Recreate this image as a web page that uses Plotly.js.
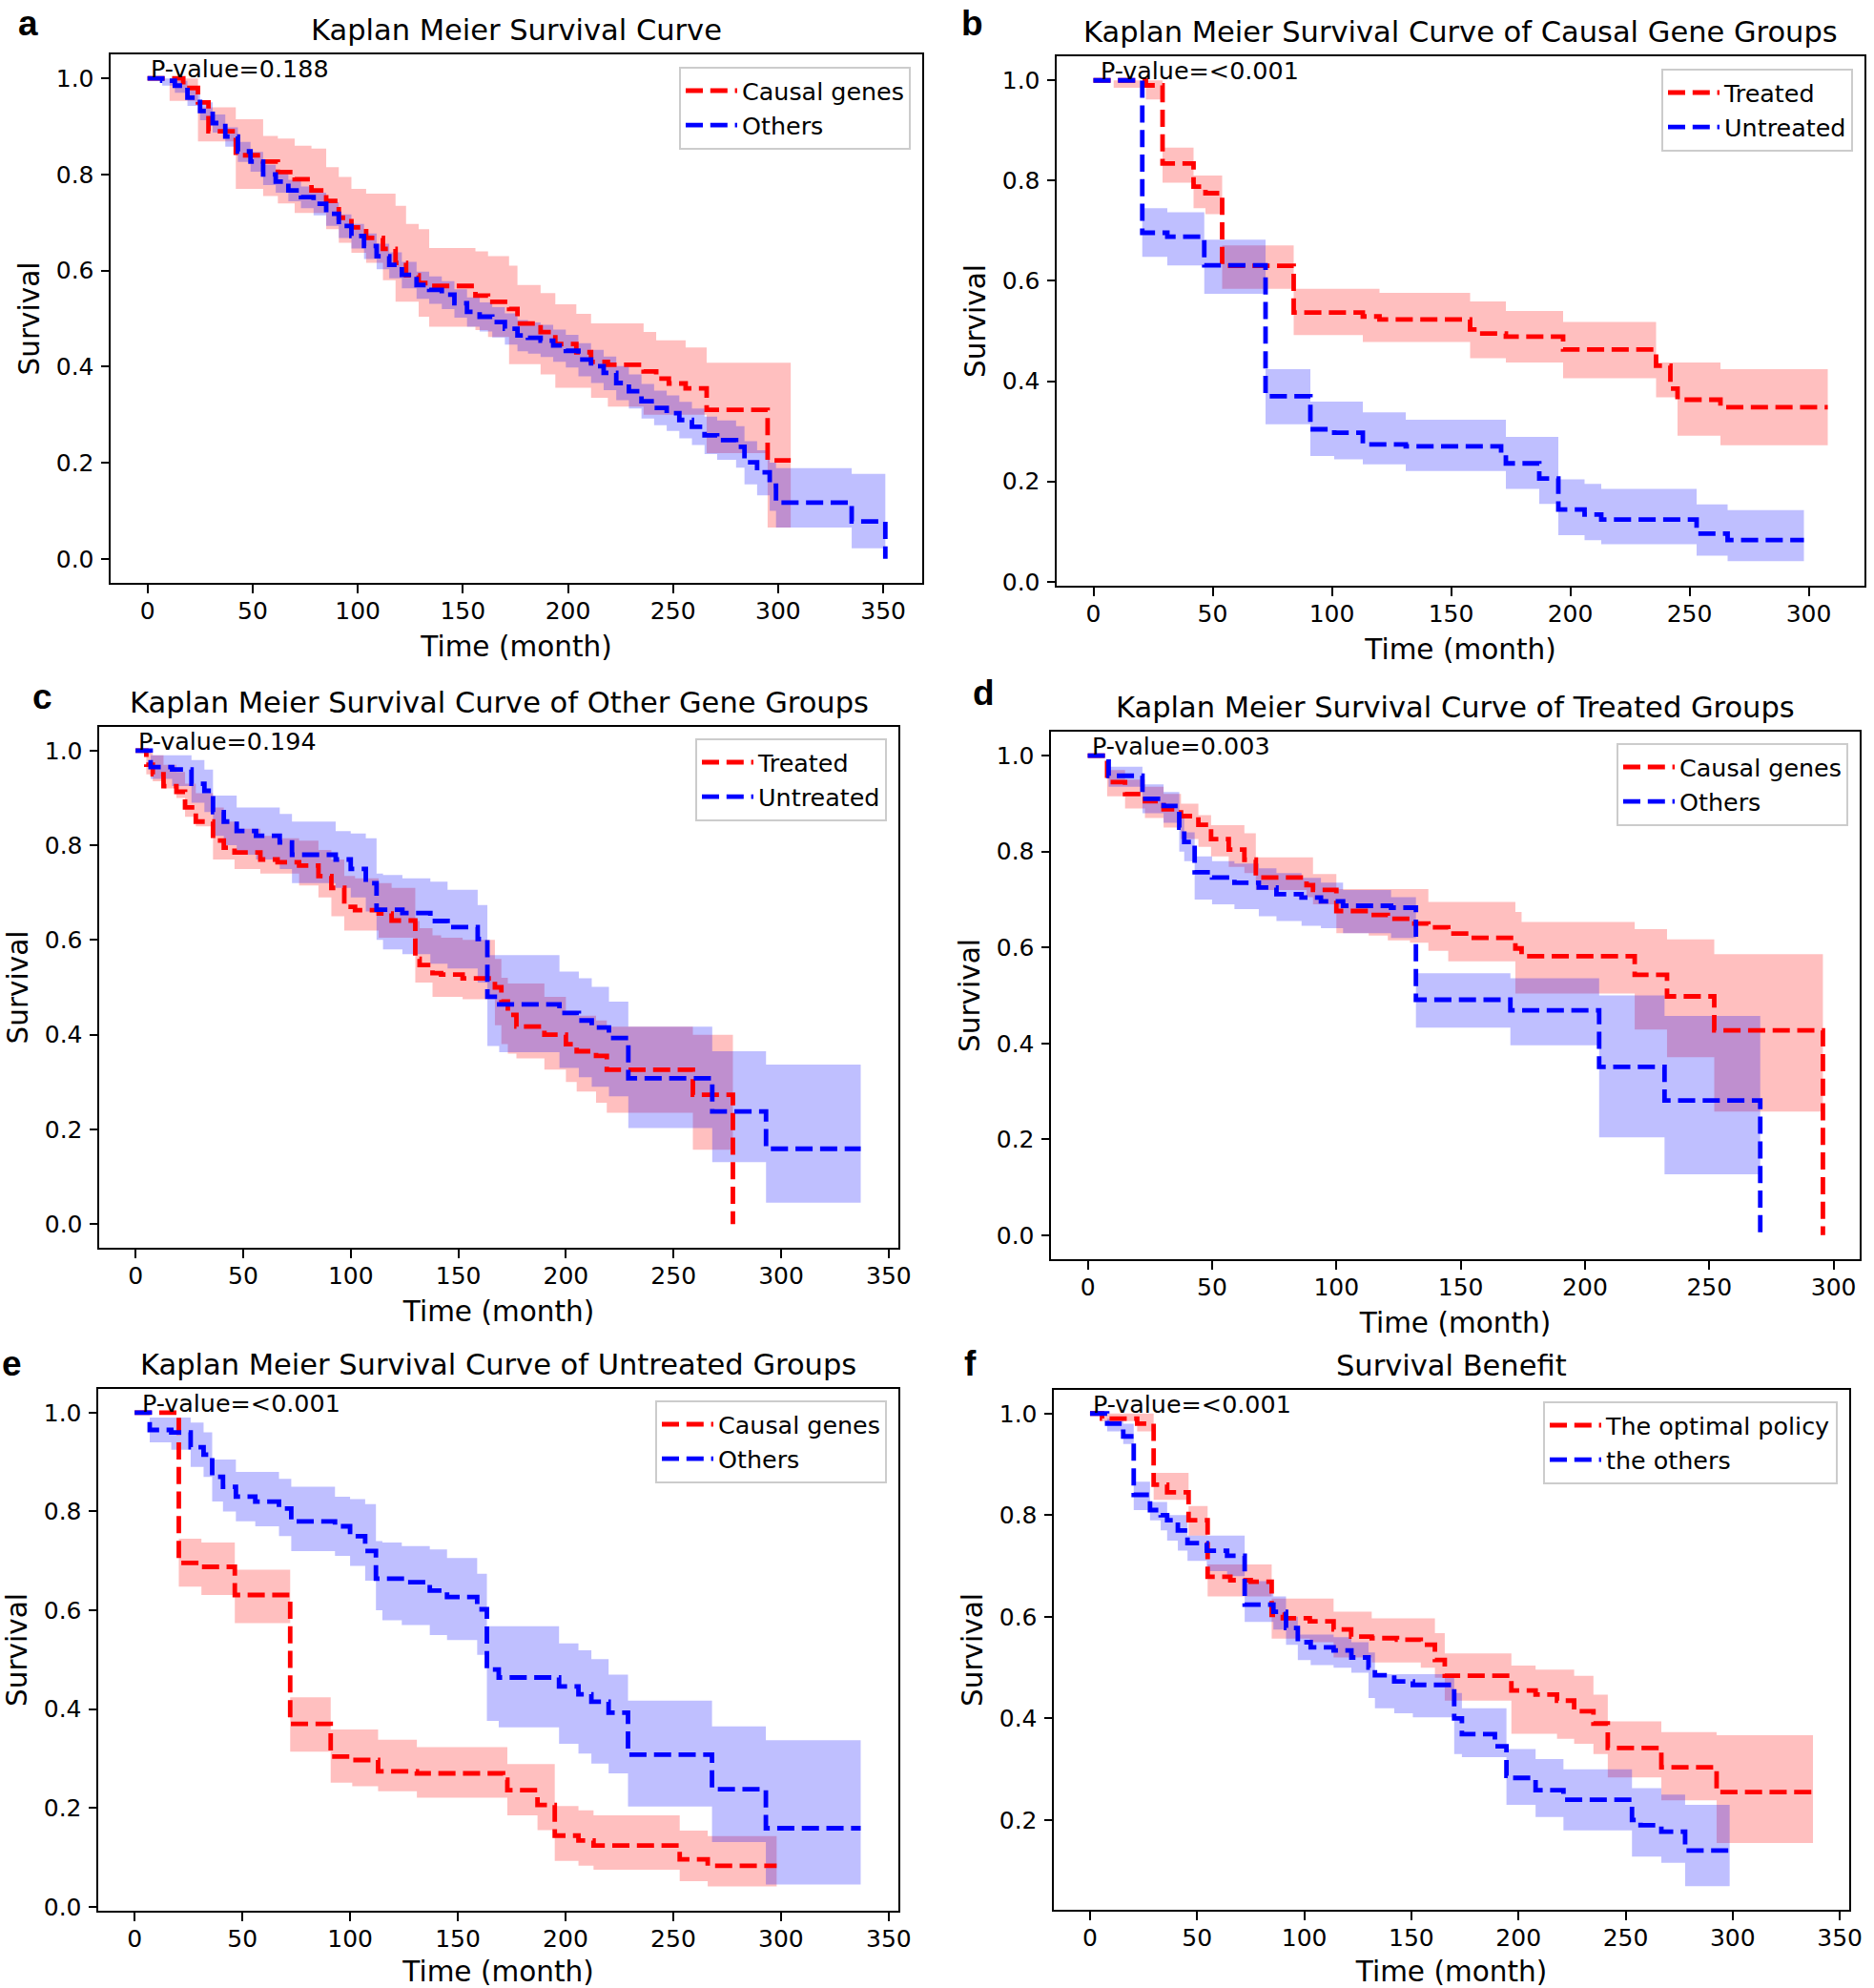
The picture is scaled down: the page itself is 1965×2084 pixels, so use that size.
<!DOCTYPE html>
<html>
<head>
<meta charset="utf-8">
<script src="https://cdn.plot.ly/plotly-3.0.1.min.js"></script>
<style>html,body{margin:0;padding:0;background:#fff}#chart{width:1965px;height:2084px}</style>
</head>
<body>
<div id="chart"></div>
<script>
// ---------------- DATA ----------------
// Panel a: all patients
const allCausalTime  = [0,10.5,17,24,29,42,55,62,70,78,85,91,97,104,112,118,123,129,134,156,162,172,176,187,194,204,211,219,236,242,248,256,266,295,306];
const allCausalSurv  = [1,1,0.98,0.95,0.89,0.84,0.827,0.805,0.79,0.767,0.745,0.71,0.69,0.668,0.645,0.616,0.59,0.574,0.568,0.548,0.535,0.52,0.49,0.472,0.447,0.43,0.41,0.404,0.39,0.375,0.365,0.355,0.31,0.205,0.205];
const allCausalUpper = [1,1,1,0.94,0.94,0.915,0.88,0.875,0.86,0.854,0.815,0.795,0.77,0.76,0.76,0.735,0.697,0.686,0.647,0.64,0.63,0.61,0.57,0.553,0.53,0.51,0.49,0.49,0.472,0.455,0.455,0.44,0.408,0.408,0.4];
const allCausalLower = [1,0.953,0.953,0.869,0.869,0.77,0.755,0.74,0.72,0.72,0.686,0.658,0.637,0.616,0.58,0.535,0.535,0.504,0.483,0.476,0.462,0.405,0.405,0.384,0.356,0.356,0.335,0.317,0.30,0.30,0.30,0.30,0.22,0.065,0.065];

const allOthersTime  = [0,7,13,19,25,31,37,43,49,55,61,67,73,79,85,91,97,103,109,115,121,128,134,140,146,152,158,164,170,176,181,187,193,199,205,211,217,223,229,235,241,247,253,259,265,271,280,284,290,296,299,335,351];
const allOthersSurv  = [1,0.995,0.985,0.96,0.932,0.907,0.879,0.848,0.827,0.8,0.785,0.767,0.753,0.739,0.718,0.693,0.672,0.651,0.63,0.612,0.591,0.57,0.56,0.55,0.532,0.514,0.504,0.493,0.479,0.465,0.46,0.454,0.444,0.433,0.415,0.401,0.387,0.366,0.349,0.328,0.314,0.303,0.289,0.275,0.257,0.247,0.233,0.201,0.18,0.152,0.117,0.078,0.0];
const allOthersUpper = [1,1,0.995,0.975,0.95,0.925,0.898,0.868,0.847,0.82,0.806,0.789,0.775,0.762,0.742,0.717,0.697,0.677,0.656,0.638,0.618,0.598,0.588,0.578,0.561,0.544,0.534,0.524,0.511,0.497,0.492,0.487,0.477,0.466,0.449,0.435,0.421,0.401,0.384,0.364,0.35,0.34,0.327,0.313,0.296,0.288,0.276,0.245,0.226,0.2,0.189,0.177,0.177];
const allOthersLower = [1,0.985,0.97,0.943,0.913,0.887,0.858,0.826,0.806,0.778,0.762,0.744,0.73,0.715,0.693,0.668,0.646,0.624,0.603,0.584,0.563,0.541,0.531,0.52,0.502,0.483,0.473,0.461,0.446,0.432,0.427,0.42,0.41,0.398,0.38,0.366,0.351,0.33,0.313,0.292,0.278,0.266,0.251,0.237,0.218,0.206,0.19,0.155,0.132,0.1,0.065,0.022,0.022];

// Panel b: causal gene groups (untreated curve is also panel e "Causal genes")
const causalTreatedTime  = [0,8.5,22,29,42,47,54,84,113,120,158,162,173,197,236,242,245,263,308];
const causalTreatedSurv  = [1,1,0.99,0.834,0.788,0.775,0.63,0.537,0.529,0.523,0.503,0.495,0.489,0.463,0.431,0.385,0.363,0.348,0.348];
const causalTreatedUpper = [1,1,1,0.866,0.81,0.81,0.671,0.584,0.584,0.576,0.559,0.559,0.54,0.518,0.437,0.437,0.437,0.424,0.424];
const causalTreatedLower = [1,0.985,0.962,0.796,0.745,0.733,0.584,0.492,0.478,0.478,0.446,0.446,0.437,0.406,0.368,0.368,0.291,0.272,0.272];

const causalUntreatedTime  = [0,20.5,31,46.5,72.2,91,101,113,131,171,173,187,195,206,213,253,266,298];
const causalUntreatedSurv  = [1,0.696,0.688,0.631,0.37,0.304,0.297,0.274,0.27,0.257,0.236,0.206,0.144,0.134,0.124,0.096,0.083,0.083];
const causalUntreatedUpper = [1,0.745,0.737,0.682,0.424,0.359,0.359,0.338,0.323,0.323,0.289,0.289,0.204,0.195,0.185,0.154,0.143,0.143];
const causalUntreatedLower = [1,0.648,0.631,0.574,0.314,0.251,0.244,0.234,0.221,0.221,0.185,0.155,0.093,0.083,0.075,0.052,0.041,0.041];

// Panel c: other gene groups (untreated curve is also panel e "Others")
const othersTreatedTime  = [0,5,8,13,19,23,28,36,41,46,58,66,76,85,91,97,102,113,119,130,132,138,142,152,167,170,173,177,190,200,205,214,219,259,277.6];
const othersTreatedSurv  = [1,0.97,0.95,0.925,0.913,0.88,0.85,0.81,0.795,0.785,0.77,0.764,0.757,0.735,0.71,0.67,0.663,0.656,0.641,0.56,0.547,0.53,0.527,0.519,0.5,0.47,0.442,0.417,0.40,0.38,0.365,0.355,0.326,0.273,0.0];
const othersTreatedUpper = [1,1,0.99,0.97,0.955,0.93,0.91,0.88,0.85,0.835,0.82,0.815,0.81,0.79,0.77,0.735,0.73,0.72,0.71,0.64,0.625,0.61,0.605,0.6,0.56,0.52,0.508,0.508,0.48,0.45,0.44,0.43,0.417,0.40,0.40];
const othersTreatedLower = [1,0.95,0.935,0.92,0.9,0.86,0.84,0.77,0.77,0.75,0.74,0.74,0.715,0.69,0.65,0.62,0.62,0.605,0.605,0.51,0.51,0.48,0.48,0.475,0.42,0.38,0.36,0.35,0.326,0.30,0.28,0.256,0.235,0.157,0.157];

const othersUntreatedTime  = [0,7,17,26,32,36,41,47,56,67,72.7,93,100,107,112,115,124,137,145,159,163.5,169,197,206,212,220,229,268,293,337];
const othersUntreatedSurv  = [1,0.965,0.96,0.93,0.915,0.87,0.85,0.83,0.82,0.806,0.78,0.77,0.75,0.72,0.664,0.664,0.657,0.64,0.627,0.602,0.48,0.464,0.446,0.43,0.415,0.393,0.308,0.238,0.159,0.159];
const othersUntreatedUpper = [1,0.99,0.99,0.98,0.96,0.905,0.905,0.88,0.88,0.866,0.85,0.83,0.825,0.815,0.74,0.737,0.73,0.723,0.706,0.674,0.568,0.568,0.533,0.519,0.501,0.47,0.417,0.365,0.337,0.337];
const othersUntreatedLower = [1,0.94,0.925,0.89,0.87,0.82,0.80,0.78,0.77,0.75,0.72,0.71,0.69,0.66,0.6,0.58,0.57,0.55,0.54,0.51,0.376,0.363,0.33,0.31,0.29,0.27,0.203,0.131,0.045,0.045];

// Panel d: treated groups
const treatedCausalTime  = [0,7.8,15,23,30.5,37.5,44.5,49.6,56.7,63,67.6,88,90.6,100,113,120.7,129.6,137,145,154,172,174.5,220,233,252,295.7];
const treatedCausalSurv  = [1,0.945,0.92,0.905,0.888,0.874,0.856,0.826,0.804,0.783,0.746,0.73,0.72,0.676,0.668,0.66,0.65,0.642,0.629,0.62,0.598,0.582,0.543,0.498,0.427,0.0];
const treatedCausalUpper = [1,0.97,0.95,0.935,0.92,0.9,0.876,0.855,0.855,0.838,0.788,0.788,0.753,0.722,0.722,0.722,0.722,0.695,0.695,0.695,0.674,0.653,0.638,0.617,0.586,0.586];
const treatedCausalLower = [1,0.915,0.89,0.87,0.85,0.826,0.81,0.79,0.768,0.755,0.72,0.705,0.69,0.63,0.625,0.615,0.61,0.593,0.571,0.571,0.504,0.504,0.429,0.371,0.258,0.258];

const treatedOthersTime  = [0,8.4,22,30.5,36.8,38.8,43,50,59,68.8,75.9,86,93.8,102.7,122,132,170,205.7,232,270.5];
const treatedOthersSurv  = [1,0.958,0.91,0.895,0.85,0.82,0.757,0.746,0.735,0.725,0.711,0.704,0.696,0.687,0.683,0.491,0.469,0.351,0.281,0.0];
const treatedOthersUpper = [1,0.977,0.94,0.924,0.87,0.84,0.79,0.78,0.775,0.765,0.755,0.745,0.735,0.72,0.705,0.546,0.536,0.5,0.457,0.457];
const treatedOthersLower = [1,0.935,0.88,0.86,0.8,0.78,0.7,0.69,0.68,0.665,0.655,0.645,0.64,0.63,0.62,0.433,0.396,0.204,0.127,0.127];

// Panel f: survival benefit
const policyOptimalTime  = [0,5.6,22,29.7,36,46,54.9,65.5,75,84.8,90,102.6,113.7,121.9,131.5,143.3,154.4,161,165.6,196.7,208,218,226,235,241.7,266.7,292.5,337.5];
const policyOptimalSurv  = [1,0.99,0.98,0.86,0.845,0.79,0.679,0.672,0.669,0.604,0.597,0.591,0.575,0.561,0.558,0.555,0.545,0.515,0.484,0.455,0.447,0.435,0.414,0.39,0.342,0.304,0.255,0.255];
const policyOptimalUpper = [1,1,1,0.883,0.883,0.818,0.703,0.703,0.703,0.636,0.636,0.636,0.61,0.61,0.597,0.597,0.597,0.568,0.528,0.504,0.496,0.496,0.484,0.447,0.394,0.373,0.367,0.367];
const policyOptimalLower = [1,0.985,0.965,0.83,0.83,0.76,0.64,0.64,0.64,0.557,0.557,0.55,0.52,0.52,0.51,0.51,0.5,0.48,0.435,0.37,0.37,0.36,0.35,0.33,0.284,0.239,0.155,0.155];

const policyOthersTime  = [0,8,15.5,20.4,28,33,36,41,45.5,54.5,64,72.2,85.6,91.5,97,103,113.7,122,130,133,142,150.7,170,173.6,189,194.4,197,208,221,253,257,266.7,277.8,298.6];
const policyOthersSurv  = [1,0.98,0.955,0.84,0.81,0.8,0.79,0.77,0.745,0.73,0.72,0.624,0.61,0.578,0.55,0.54,0.534,0.52,0.5,0.485,0.473,0.466,0.4,0.369,0.345,0.287,0.283,0.259,0.24,0.2,0.19,0.177,0.14,0.14];
const policyOthersUpper = [1,0.99,0.98,0.866,0.826,0.826,0.8,0.8,0.76,0.76,0.76,0.67,0.64,0.6,0.565,0.565,0.56,0.55,0.53,0.487,0.487,0.487,0.45,0.42,0.42,0.34,0.34,0.32,0.3,0.263,0.263,0.25,0.23,0.23];
const policyOthersLower = [1,0.965,0.94,0.81,0.79,0.77,0.75,0.73,0.71,0.69,0.68,0.59,0.575,0.545,0.515,0.505,0.5,0.49,0.44,0.42,0.41,0.402,0.33,0.324,0.324,0.23,0.23,0.206,0.18,0.128,0.128,0.116,0.07,0.07];

// Labels
const panelTitles = [
  'Kaplan Meier Survival Curve',
  'Kaplan Meier Survival Curve of Causal Gene Groups',
  'Kaplan Meier Survival Curve of Other Gene Groups',
  'Kaplan Meier Survival Curve of Treated Groups',
  'Kaplan Meier Survival Curve of Untreated Groups',
  'Survival Benefit'
];
const panelLetters = ['a','b','c','d','e','f'];
const pValues = ['P-value=0.188','P-value=&lt;0.001','P-value=0.194','P-value=0.003','P-value=&lt;0.001','P-value=&lt;0.001'];
const legendNames = [
  ['Causal genes','Others'],
  ['Treated','Untreated'],
  ['Treated','Untreated'],
  ['Causal genes','Others'],
  ['Causal genes','Others'],
  ['The optimal policy','the others']
];
const xTitle = 'Time (month)';
const yTitle = 'Survival';

// ---------------- LAYOUT / STYLE ----------------
const W = 1965, H = 2084;
const FONT = 'DejaVu Sans, Verdana, sans-serif';
const TICK_FS = 25, LEG_FS = 25.4, AXT_FS = 29.5, TITLE_FS = 30.5;
const RED = '#ff0000', BLUE = '#0000ff';
const RED_BAND = 'rgba(255,0,0,0.25)', BLUE_BAND = 'rgba(0,0,255,0.25)';

const seriesData = [
  [[allCausalTime,allCausalSurv,allCausalUpper,allCausalLower],[allOthersTime,allOthersSurv,allOthersUpper,allOthersLower]],
  [[causalTreatedTime,causalTreatedSurv,causalTreatedUpper,causalTreatedLower],[causalUntreatedTime,causalUntreatedSurv,causalUntreatedUpper,causalUntreatedLower]],
  [[othersTreatedTime,othersTreatedSurv,othersTreatedUpper,othersTreatedLower],[othersUntreatedTime,othersUntreatedSurv,othersUntreatedUpper,othersUntreatedLower]],
  [[treatedCausalTime,treatedCausalSurv,treatedCausalUpper,treatedCausalLower],[treatedOthersTime,treatedOthersSurv,treatedOthersUpper,treatedOthersLower]],
  [[causalUntreatedTime,causalUntreatedSurv,causalUntreatedUpper,causalUntreatedLower],[othersUntreatedTime,othersUntreatedSurv,othersUntreatedUpper,othersUntreatedLower]],
  [[policyOptimalTime,policyOptimalSurv,policyOptimalUpper,policyOptimalLower],[policyOthersTime,policyOthersSurv,policyOthersUpper,policyOthersLower]]
];

// pixel boxes [left, top, right, bottom] of each axes frame
const boxes = [
  [116,57,967,611],
  [1108,59,1955,614],
  [104,762,942,1308],
  [1102,767,1950,1320],
  [103,1456,942,2003],
  [1105,1457,1939,2002]
];
const xRanges = [[-17.55,368.55],[-15.4,323.4],[-16.9,354.5],[-14.8,310.5],[-16.9,354.5],[-16.9,354.4]];
const yRanges = [[-0.05,1.05],[-0.008,1.048],[-0.05,1.05],[-0.05,1.05],[-0.008,1.048],[0.0235,1.0465]];
const pX = [1.5,2.8,1.2,1.6,3.3,1.4];
const legendPos = [[955,70],[1943,72],[930,774],[1938,779],[930,1468],[1927,1469]];
const letterPos = [[29,38],[1019,38],[44,744],[1031,740],[12,1443],[1018,1443]];

const traces = [];
const layout = {
  width: W, height: H,
  margin: {l:0, r:0, t:0, b:0},
  paper_bgcolor: '#ffffff', plot_bgcolor: '#ffffff',
  showlegend: true,
  annotations: [],
  font: {family: FONT, color: '#000'}
};

for (let i = 0; i < 6; i++) {
  const n = i === 0 ? '' : String(i + 1);
  const xa = 'x' + n, ya = 'y' + n, lg = 'legend' + n;
  const b = boxes[i];
  const colors = [RED, BLUE], bands = [RED_BAND, BLUE_BAND];

  // confidence bands
  seriesData[i].forEach((sd, k) => {
    traces.push({type:'scatter', mode:'lines', x: sd[0], y: sd[2], xaxis: xa, yaxis: ya,
      line:{width:0, shape:'hv'}, showlegend:false, hoverinfo:'skip', legend: lg});
    traces.push({type:'scatter', mode:'lines', x: sd[0], y: sd[3], xaxis: xa, yaxis: ya,
      fill:'tonexty', fillcolor: bands[k], line:{width:0, shape:'hv'}, showlegend:false, hoverinfo:'skip', legend: lg});
  });
  // survival lines
  seriesData[i].forEach((sd, k) => {
    traces.push({type:'scatter', mode:'lines', x: sd[0], y: sd[1], xaxis: xa, yaxis: ya,
      name: legendNames[i][k], legend: lg,
      line:{color: colors[k], width:4.8, dash:'18px,7.8px', shape:'hv'}, hoverinfo:'skip'});
  });

  const axisCommon = {
    showline:true, mirror:true, linecolor:'#000', linewidth:2,
    ticks:'outside', ticklen:8.5, tickwidth:2, tickcolor:'#000',
    showgrid:false, zeroline:false, fixedrange:true,
    tickfont:{family:FONT, size:TICK_FS, color:'#000'}
  };
  layout['xaxis' + n] = Object.assign({}, axisCommon, {
    domain:[b[0]/W, b[2]/W], range: xRanges[i], anchor: ya,
    tick0:0, dtick:50, ticklabelstandoff:-3,
    title:{text: xTitle, font:{family:FONT, size:AXT_FS, color:'#000'}, standoff:14}
  });
  layout['yaxis' + n] = Object.assign({}, axisCommon, {
    domain:[1 - b[3]/H, 1 - b[1]/H], range: yRanges[i], anchor: xa,
    tick0:0, dtick:0.2, tickformat:'.1f', ticklabelstandoff:2,
    title:{text: yTitle, font:{family:FONT, size:AXT_FS, color:'#000'}, standoff:8}
  });
  layout[lg] = {
    x: legendPos[i][0]/W, xanchor:'right', y: 1 - legendPos[i][1]/H, yanchor:'top',
    bgcolor:'rgba(255,255,255,0.8)', bordercolor:'#cccccc', borderwidth:2,
    font:{family:FONT, size:LEG_FS, color:'#000'}, itemwidth:54, traceorder:'normal'
  };

  // title
  layout.annotations.push({xref:'paper', yref:'paper', x:(b[0]+b[2])/2/W, y:1 - b[1]/H,
    xanchor:'center', yanchor:'bottom', yshift:6, showarrow:false,
    text: panelTitles[i], font:{family:FONT, size:TITLE_FS, color:'#000'}});
  // p-value
  layout.annotations.push({xref: xa, yref: ya, x: pX[i], y: 1.0, xanchor:'left', yanchor:'bottom',
    yshift:-7, xshift:-2, showarrow:false, text: pValues[i], font:{family:FONT, size:LEG_FS, color:'#000'}});
  // panel letter
  layout.annotations.push({xref:'paper', yref:'paper', x: letterPos[i][0]/W, y: 1 - (letterPos[i][1] + 9)/H,
    xanchor:'center', yanchor:'bottom', showarrow:false, text: panelLetters[i],
    font:{family:'Liberation Sans, Arial, sans-serif', size:37, color:'#000', weight:'bold'}});
}

Plotly.newPlot('chart', traces, layout, {staticPlot:true, displayModeBar:false});
</script>
</body>
</html>
